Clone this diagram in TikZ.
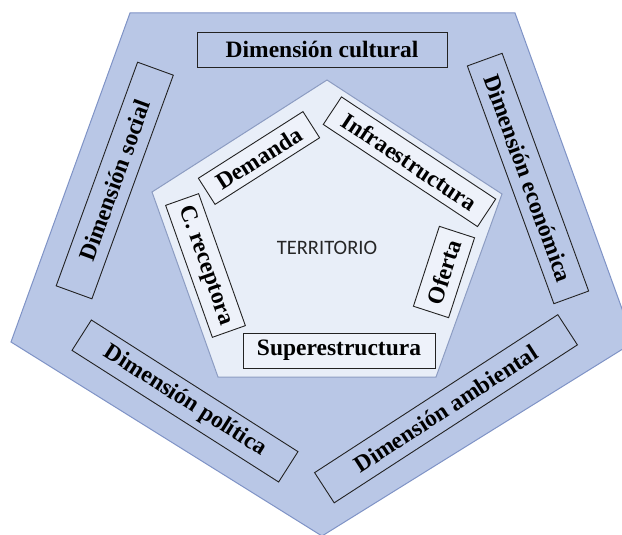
\documentclass[tikz,border=0pt]{standalone}
\usepackage{fontspec}
\setmainfont{Liberation Serif}
\newfontfamily\terrfont{Carlito}
\definecolor{outerfill}{HTML}{B9C7E6}
\definecolor{outerline}{HTML}{7F93C6}
\definecolor{innerfill}{HTML}{E8EEF8}
\definecolor{innerline}{HTML}{8C9CC2}
\definecolor{inboxfill}{HTML}{EEF2FA}
\definecolor{boxline}{HTML}{222222}
\tikzset{
  dimbox/.style={draw=boxline, line width=0.9pt, inner sep=0pt, align=center,
    font=\fontsize{23.5}{28}\selectfont\bfseries, text=black},
  outbox/.style={dimbox},
  inbox/.style={dimbox, fill=inboxfill},
}
\begin{document}
\begin{tikzpicture}[x=1pt,y=-1pt]
\useasboundingbox (0,0) rectangle (622,535);
\clip (0,0) rectangle (622,535);
\fill[white] (0,0) rectangle (622,535);
% outer pentagon
\coordinate (o1) at (130,13);
\coordinate (o2) at (515,13);
\coordinate (o3) at (634,342);
\coordinate (o4) at (322,536);
\coordinate (o5) at (11,342);
\draw[fill=outerfill, draw=outerline, line width=1pt] (o1) -- (o2) -- (o3) -- (o4) -- (o5) -- cycle;
% inner pentagon
\coordinate (i1) at (327,80);
\coordinate (i2) at (502,194);
\coordinate (i3) at (436,377);
\coordinate (i4) at (218,377);
\coordinate (i5) at (152,192);
\draw[fill=innerfill, draw=innerline, line width=1pt] (i1) -- (i2) -- (i3) -- (i4) -- (i5) -- cycle;
% outer dimension boxes
\node[outbox, minimum width=250pt, minimum height=35pt] (cultural) at (322,49.5) {Dimensión cultural};
\node[outbox, minimum width=238pt, minimum height=38pt, rotate=70] (social) at (114.75,180.5) {Dimensión social};
\node[outbox, minimum width=253pt, minimum height=37pt, rotate=-70] (economica) at (528,178.5) {Dimensión económica};
\node[outbox, minimum width=245pt, minimum height=36pt, rotate=-32.5] (politica) at (185,401) {Dimensión política};
\node[outbox, minimum width=290pt, minimum height=36pt, rotate=33] (ambiental) at (446,408.75) {Dimensión ambiental};
% inner boxes
\node[inbox, minimum width=124pt, minimum height=31pt, rotate=32.5] (demanda) at (259,158) {Demanda};
\node[inbox, minimum width=185pt, minimum height=33pt, rotate=-33.5] (infra) at (409.5,161.75) {Infraestructura};
\node[inbox, minimum width=84pt, minimum height=37pt, rotate=72] (oferta) at (444,272) {Oferta};
\node[inbox, minimum width=192pt, minimum height=35pt] (super) at (339,350.5) {Superestructura};
\node[inbox, minimum width=140pt, minimum height=35pt, rotate=-70.5] (receptora) at (205.5,265.5) {C. receptora};
% centre
\node[font=\terrfont\fontsize{20.5}{24}\selectfont, text=black!85] (territorio) at (327,248) {TERRITORIO};
\end{tikzpicture}
\end{document}
